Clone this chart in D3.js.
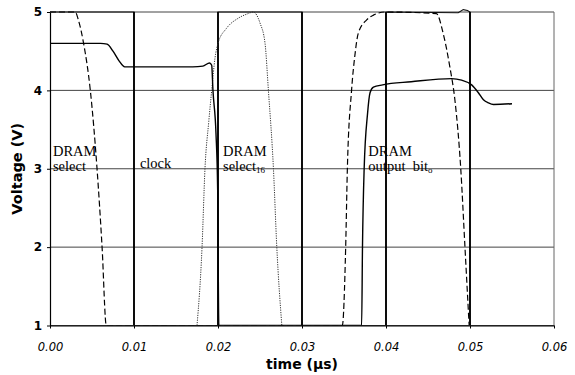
<!DOCTYPE html>
<html>
<head>
<meta charset="utf-8">
<script src="https://cdn.jsdelivr.net/npm/d3@7"></script>
<style>
  body { margin: 0; background: #fff; }
  .tick text { fill: #000; }
</style>
</head>
<body>
<div id="chart"></div>
<script>
// tick values
const timeTicks = [0, 0.01, 0.02, 0.03, 0.04, 0.05, 0.06];
const voltTicks = [1, 2, 3, 4, 5];

// DRAM output bit (solid)
const outputTime = [0, 0.006, 0.0068, 0.0075, 0.0082, 0.0089, 0.012, 0.017, 0.0182, 0.019, 0.01925, 0.0194, 0.01976, 0.01996, 0.0201,
  0.0371, 0.0372, 0.0374, 0.0378, 0.0381, 0.0385, 0.0396, 0.043, 0.0478, 0.049, 0.0502, 0.051, 0.0516, 0.0522, 0.0528, 0.055];
const outputVolt = [4.6, 4.6, 4.59, 4.5, 4.38, 4.3, 4.3, 4.3, 4.31, 4.35, 4.32, 4.0, 3.45, 2.73, 1.0,
  1.0, 2.0, 3.0, 3.7, 3.97, 4.04, 4.07, 4.11, 4.15, 4.13, 4.07, 3.97, 3.88, 3.84, 3.82, 3.83];

// DRAM select (dashed)
const selectTime = [0, 0.003, 0.00337, 0.004, 0.0048, 0.0056, 0.0062, 0.0067,
  0.0348, 0.0352, 0.0354, 0.0359, 0.0363, 0.0367, 0.0377, 0.0385, 0.0399, 0.046, 0.0468, 0.0476, 0.0482, 0.0489, 0.0494, 0.0499];
const selectVolt = [5, 5, 4.9, 4.6, 4.0, 3.0, 2.0, 1.0,
  1.0, 2.0, 3.0, 4.0, 4.45, 4.73, 4.9, 4.96, 5.0, 4.98, 4.73, 4.3, 3.88, 3.0, 2.0, 1.0];

// DRAM select16 (dotted)
const select16Time = [0.0175, 0.0181, 0.01845, 0.0189, 0.01925, 0.01964, 0.02, 0.021, 0.0224, 0.0236, 0.0242, 0.025, 0.0256, 0.026, 0.0266, 0.027, 0.0276];
const select16Volt = [1.0, 2.0, 3.0, 3.6, 4.0, 4.41, 4.6, 4.79, 4.92, 4.98, 5.0, 4.86, 4.6, 4.0, 3.0, 2.0, 1.0];

// clock (square wave)
const clockTime = [0, 0.01, 0.01, 0.02, 0.02, 0.03, 0.03, 0.04, 0.04, 0.0486, 0.0492, 0.0497, 0.05, 0.05];
const clockVolt = [5, 5, 1, 1, 5, 5, 1, 1, 5, 4.99, 5.03, 5.02, 5, 1];

// curve labels, anchored in data units
const labelTime = [0.00035, 0.0107, 0.0206, 0.0379];
const labelVolt = [3.0, 3.04, 3.0, 3.0];
const labelTop = ["DRAM", "", "DRAM", "DRAM"];
const labelMain = ["select", "clock", "select", "output\u00a0 bit"];
const labelSub = ["", "", "16", "o"];

const width = 575, height = 375;
const margin = { top: 12, right: 21, bottom: 49.5, left: 50 };
const w = width - margin.left - margin.right;
const h = height - margin.top - margin.bottom;

const svg = d3.select("#chart")
  .append("svg")
  .attr("width", width)
  .attr("height", height)
  .style("background", "#fff");

// traces sitting on the 1 V axis get cut so the axis stays thin
svg.append("defs")
  .append("clipPath")
  .attr("id", "plot-clip")
  .append("rect")
  .attr("x", -5)
  .attr("y", -10)
  .attr("width", 575)
  .attr("height", 10 + 313.5 - 0.2);

const g = svg.append("g")
  .attr("transform", `translate(${margin.left},${margin.top})`);

const x = d3.scaleLinear().domain([0, 0.06]).range([0, w]);
const y = d3.scaleLinear().domain([1, 5]).range([h, 0]);

// horizontal gridlines
g.append("g")
  .selectAll("line")
  .data(voltTicks)
  .enter()
  .append("line")
  .attr("x1", 0)
  .attr("x2", w)
  .attr("y1", d => y(d))
  .attr("y2", d => y(d))
  .attr("stroke", "#444")
  .attr("stroke-width", 1);

// right border
g.append("line")
  .attr("x1", x(0.06)).attr("x2", x(0.06))
  .attr("y1", y(5)).attr("y2", y(1))
  .attr("stroke", "#666")
  .attr("stroke-width", 1);

const line = d3.line()
  .x(d => x(d[0]))
  .y(d => y(d[1]));

const smooth = d3.line()
  .x(d => x(d[0]))
  .y(d => y(d[1]))
  .curve(d3.curveMonotoneX);

const zip = (a, b) => a.map((t, i) => [t, b[i]]);

const traces = g.append("g").attr("clip-path", "url(#plot-clip)");

// clock: thin trace, heavier edges
const clock = zip(clockTime, clockVolt);
traces.append("path")
  .datum(clock)
  .attr("d", line)
  .attr("fill", "none")
  .attr("stroke", "#111")
  .attr("stroke-width", 1.1);

const edges = clock.slice(1)
  .map((d, i) => [clock[i], d])
  .filter(p => p[0][0] === p[1][0]);

traces.append("g")
  .selectAll("line")
  .data(edges)
  .enter()
  .append("line")
  .attr("x1", d => x(d[0][0]))
  .attr("x2", d => x(d[1][0]))
  .attr("y1", d => y(d[0][1]))
  .attr("y2", d => y(d[1][1]))
  .attr("stroke", "#000")
  .attr("stroke-width", 1.8);

// DRAM select16
traces.append("path")
  .datum(zip(select16Time, select16Volt))
  .attr("d", smooth)
  .attr("fill", "none")
  .attr("stroke", "#333")
  .attr("stroke-width", 1)
  .attr("stroke-dasharray", "1.2,1.2");

// DRAM select
traces.append("path")
  .datum(zip(selectTime, selectVolt))
  .attr("d", smooth)
  .attr("fill", "none")
  .attr("stroke", "#000")
  .attr("stroke-width", 1.2)
  .attr("stroke-dasharray", "6,3");

// DRAM output bit
traces.append("path")
  .datum(zip(outputTime, outputVolt))
  .attr("d", smooth)
  .attr("fill", "none")
  .attr("stroke", "#000")
  .attr("stroke-width", 1.4);

const xAxis = g.append("g")
  .attr("transform", `translate(0,${h})`)
  .call(d3.axisBottom(x).tickValues(timeTicks).tickFormat(d3.format(".2f")).tickSizeInner(3).tickSizeOuter(0).tickPadding(14));
xAxis.selectAll("text")
  .style("font-family", "'DejaVu Sans', sans-serif")
  .style("font-style", "italic")
  .style("font-size", "11.5px");

const yAxis = g.append("g")
  .call(d3.axisLeft(y).tickValues(voltTicks).tickFormat(d3.format("d")).tickSizeInner(3).tickSizeOuter(0).tickPadding(5));
yAxis.selectAll("text")
  .style("font-family", "'DejaVu Sans', sans-serif")
  .style("font-weight", "bold")
  .style("font-size", "12px");

[xAxis, yAxis].forEach(a => {
  a.select(".domain").attr("stroke", "#000").attr("stroke-width", 1.2);
  a.selectAll(".tick line").attr("stroke", "#000");
});

// curve labels
const labels = g.append("g")
  .style("font-family", "'Liberation Serif', 'Times New Roman', serif")
  .style("font-size", "14.5px")
  .attr("fill", "#000");

labelTime.forEach((t, i) => {
  const lx = x(t), ly = y(labelVolt[i]) + 2;
  if (labelTop[i]) {
    labels.append("text")
      .attr("x", lx)
      .attr("y", ly - 15)
      .text(labelTop[i]);
  }
  const txt = labels.append("text")
    .attr("x", lx)
    .attr("y", ly)
    .text(labelMain[i]);
  if (labelSub[i]) {
    txt.append("tspan")
      .attr("dy", 2)
      .style("font-size", "9px")
      .text(labelSub[i]);
  }
});

// axis titles
g.append("text")
  .attr("x", w / 2)
  .attr("y", h + 43)
  .attr("text-anchor", "middle")
  .style("font-family", "'DejaVu Sans', sans-serif")
  .style("font-weight", "bold")
  .style("font-size", "14px")
  .text("time (\u00b5s)");

g.append("text")
  .attr("transform", "rotate(-90)")
  .attr("x", -h / 2)
  .attr("y", -28)
  .attr("text-anchor", "middle")
  .style("font-family", "'DejaVu Sans', sans-serif")
  .style("font-weight", "bold")
  .style("font-size", "14.5px")
  .text("Voltage (V)");
</script>
</body>
</html>
